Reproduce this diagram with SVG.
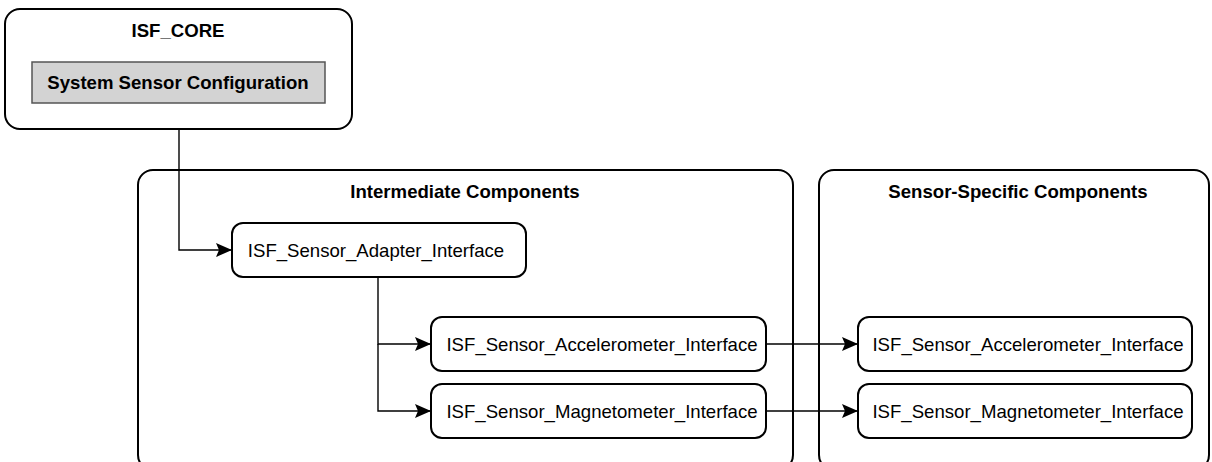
<svg xmlns="http://www.w3.org/2000/svg" width="1212" height="462" viewBox="0 0 1212 462">
<style>
.box{fill:#fff;stroke:#000;stroke-width:2}
.cont{fill:#fff;stroke:#000;stroke-width:2}
.t{font-family:"Liberation Sans",Arial,sans-serif;font-size:18.6px;fill:#000;text-anchor:middle}
.b{font-weight:bold}
.c{fill:none;stroke:#000;stroke-width:1.4}
</style>
<defs>
<marker id="ah" markerWidth="16" markerHeight="14" refX="15" refY="7" orient="auto" markerUnits="userSpaceOnUse">
<path d="M0,0 L16,7 L0,14 L3,7 Z" fill="#000"/>
</marker>
</defs>
<rect width="1212" height="462" fill="#fff"/>
<g id="isf_core">
<rect class="cont" x="5" y="9" width="347" height="120" rx="15"/>
<text class="t b" x="178" y="37">ISF_CORE</text>
<rect x="32" y="62" width="293" height="41" fill="#d3d3d3" stroke="#555" stroke-width="1.5"/>
<text class="t b" x="178" y="89">System Sensor Configuration</text>
</g>
<g id="intermediate">
<rect class="cont" x="138" y="170" width="655" height="300" rx="15"/>
<text class="t b" x="465" y="198">Intermediate Components</text>
</g>
<g id="sensor_specific">
<rect class="cont" x="819" y="170" width="390" height="300" rx="15"/>
<text class="t b" x="1018" y="198">Sensor-Specific Components</text>
</g>
<g id="adapter">
<rect class="box" x="232" y="223" width="294" height="54" rx="11"/>
<text class="t" x="376" y="257">ISF_Sensor_Adapter_Interface</text>
</g>
<g id="accel_int">
<rect class="box" x="431" y="317" width="335" height="54" rx="11"/>
<text class="t" x="602" y="351">ISF_Sensor_Accelerometer_Interface</text>
</g>
<g id="mag_int">
<rect class="box" x="431" y="384" width="335" height="54" rx="11"/>
<text class="t" x="602" y="418">ISF_Sensor_Magnetometer_Interface</text>
</g>
<g id="accel_spec">
<rect class="box" x="858" y="317" width="334" height="54" rx="11"/>
<text class="t" x="1028" y="351">ISF_Sensor_Accelerometer_Interface</text>
</g>
<g id="mag_spec">
<rect class="box" x="858" y="384" width="334" height="54" rx="11"/>
<text class="t" x="1028" y="418">ISF_Sensor_Magnetometer_Interface</text>
</g>
<g id="connectors">
<path class="c" d="M179,129 V250 H231" marker-end="url(#ah)"/>
<path class="c" d="M378,277 V344 H430" marker-end="url(#ah)"/>
<path class="c" d="M378,344 V411 H430" marker-end="url(#ah)"/>
<path class="c" d="M766,344 H857" marker-end="url(#ah)"/>
<path class="c" d="M766,411 H857" marker-end="url(#ah)"/>
</g>
</svg>
